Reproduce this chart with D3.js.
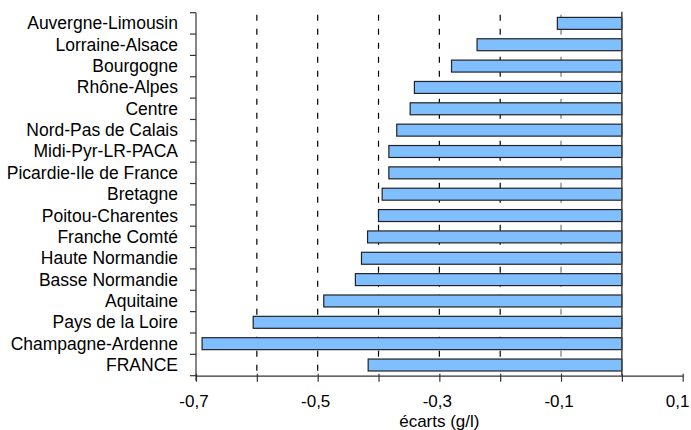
<!DOCTYPE html>
<html><head><meta charset="utf-8">
<script src="https://cdn.jsdelivr.net/npm/d3@7"></script>
<style>
html,body{margin:0;padding:0;background:#fff;}
svg{display:block;font-family:"Liberation Sans",Arial,sans-serif;}
</style></head>
<body><svg id="c" width="691" height="430"></svg>
<script>
const categories = ["Auvergne-Limousin","Lorraine-Alsace","Bourgogne","Rhône-Alpes","Centre","Nord-Pas de Calais","Midi-Pyr-LR-PACA","Picardie-Ile de France","Bretagne","Poitou-Charentes","Franche Comté","Haute Normandie","Basse Normandie","Aquitaine","Pays de la Loire","Champagne-Ardenne","FRANCE"];
const values = [-0.106,-0.238,-0.280,-0.341,-0.348,-0.370,-0.383,-0.383,-0.394,-0.400,-0.418,-0.428,-0.438,-0.490,-0.606,-0.690,-0.417];
const xTicks = [-0.7,-0.6,-0.5,-0.4,-0.3,-0.2,-0.1,0,0.1];
const xTickLabels = ["-0,7","","-0,5","","-0,3","","-0,1","","0,1"];
const gridValues = [-0.6,-0.5,-0.4,-0.3,-0.2,-0.1];
const xTitle = "écarts (g/l)";

(function(){
const svg = d3.select("#c");
const pL = 196, pR = 682.7, pT = 12.7, pB = 375.7;
const fs = 17, fsCat = 17.5;
const x = d3.scaleLinear().domain([-0.7,0.1]).range([pL,pR]);
const y = d3.scaleBand().domain(categories).range([pT,pB]).paddingInner(0.44).paddingOuter(0.22);
const yb = d3.scaleBand().domain(categories).range([pT,pB]);

svg.append("g").selectAll("line").data(gridValues).join("line")
  .attr("x1",d=>x(d)).attr("x2",d=>x(d)).attr("y1",pT+2).attr("y2",pB)
  .attr("stroke",d=>d===-0.1?"#777":"#000").attr("stroke-width",1.2)
  .attr("stroke-dasharray","6,8");

svg.append("g").selectAll("rect").data(categories).join("rect")
  .attr("x",(d,i)=>x(values[i])).attr("width",(d,i)=>x(0)-x(values[i]))
  .attr("y",d=>y(d)).attr("height",y.bandwidth())
  .attr("fill","#80bfff").attr("stroke","#222").attr("stroke-width",1.2);

svg.append("line").attr("x1",x(0)).attr("x2",x(0)).attr("y1",pT-1).attr("y2",pB)
  .attr("stroke","#444").attr("stroke-width",1.5);

const gy = svg.append("g");
gy.append("line").attr("x1",pL).attr("x2",pL).attr("y1",pT).attr("y2",pB+5)
  .attr("stroke","#333").attr("stroke-width",1.2);
gy.selectAll("line.t").data(categories.concat(["_end"])).join("line").attr("class","t")
  .attr("x1",pL-6).attr("x2",pL)
  .attr("y1",(d,i)=> i<categories.length ? yb(d) : pB)
  .attr("y2",(d,i)=> i<categories.length ? yb(d) : pB)
  .attr("stroke","#333").attr("stroke-width",1.2);
gy.selectAll("text").data(categories).join("text")
  .attr("x",178).attr("y",d=>yb(d)+yb.bandwidth()/2+6)
  .attr("text-anchor","end").attr("font-size",fsCat).attr("fill","#000").text(d=>d);

const xAxis = d3.axisBottom(x).tickValues(xTicks).tickSize(6).tickSizeOuter(0)
  .tickFormat((d,i)=>xTickLabels[i]);
const gx = svg.append("g").attr("transform",`translate(0,${pB})`).call(xAxis);
gx.select(".domain").attr("stroke","#333").attr("stroke-width",1.2);
gx.selectAll(".tick line").attr("stroke","#333").attr("stroke-width",1.2).attr("y1",-2);
gx.selectAll(".tick text").attr("font-size",fs).attr("fill","#000")
  .attr("font-family","\"Liberation Sans\",Arial,sans-serif").attr("dy",0).attr("y",31)
  .attr("x",d=> d===0.1 ? 689-x(d) : -2.5)
  .attr("text-anchor",d=> d===0.1 ? "end" : "middle");

svg.append("text").attr("x",(pL+pR)/2).attr("y",426.5).attr("text-anchor","middle")
  .attr("font-size",fs).attr("fill","#000").text(xTitle);
})();
</script></body></html>
